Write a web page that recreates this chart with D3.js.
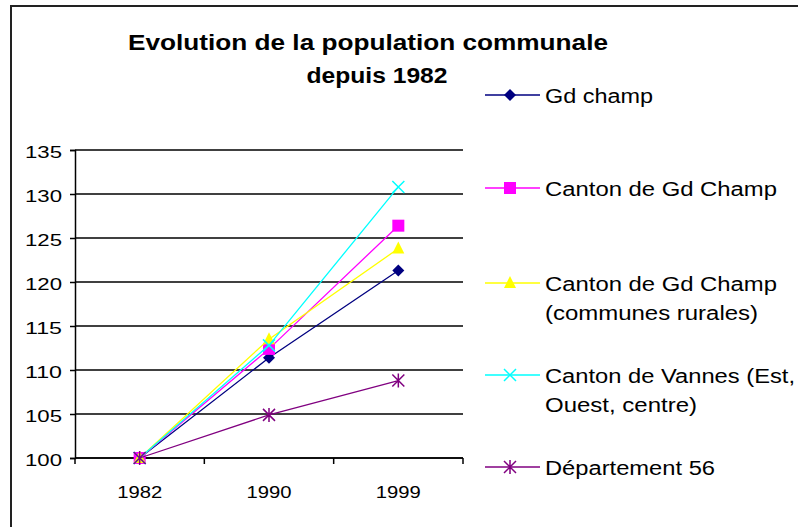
<!DOCTYPE html>
<html>
<head>
<meta charset="utf-8">
<script src="https://cdn.jsdelivr.net/npm/d3@7"></script>
<style>
  body { margin: 0; background: #fff; }
  svg { display: block; }
</style>
</head>
<body>
<svg width="798" height="527"></svg>
<script>
// data
var years = ['1982', '1990', '1999'];
var yTicks = [100, 105, 110, 115, 120, 125, 130, 135];
var seriesNames = [
  ['Gd champ'],
  ['Canton de Gd Champ'],
  ['Canton de Gd Champ', '(communes rurales)'],
  ['Canton de Vannes (Est,', 'Ouest, centre)'],
  ['Département 56']
];
var gdChamp = [100, 111.4, 121.3];
var cantonGdChamp = [100, 112.4, 126.4];
var cantonRural = [100, 113.5, 123.8];
var cantonVannes = [100, 112.8, 130.8];
var departement = [100, 104.9, 108.8];
var seriesColors = ['#000080', '#ff00ff', '#ffff00', '#00ffff', '#800080'];
var seriesMarkers = ['diamond', 'square', 'triangle', 'cross', 'star'];

var allSeries = [gdChamp, cantonGdChamp, cantonRural, cantonVannes, departement];
var font = 'Liberation Sans, Arial, sans-serif';

var svg = d3.select('svg');

// outer frame (runs off the right and bottom edges)
svg.append('rect').attr('x', 11).attr('y', 6).attr('width', 820).attr('height', 560)
  .attr('fill', 'white').attr('stroke', '#222').attr('stroke-width', 2);

// title
var title = svg.append('text').attr('text-anchor', 'middle')
  .attr('font-family', font).attr('font-weight', 'bold').attr('font-size', 22).attr('fill', '#000');
title.append('tspan').attr('x', 368).attr('y', 50)
  .attr('textLength', 480).attr('lengthAdjust', 'spacingAndGlyphs')
  .text('Evolution de la population communale');
title.append('tspan').attr('x', 377).attr('y', 83)
  .attr('textLength', 141).attr('lengthAdjust', 'spacingAndGlyphs')
  .text('depuis 1982');

var pLeft = 75, pRight = 463, pTop = 150, pBottom = 458;
var x = d3.scaleBand().domain(years).range([pLeft, pRight]);
var y = d3.scaleLinear().domain([100, 135]).range([pBottom, pTop]);

// gridlines
svg.append('g').selectAll('line').data(yTicks).join('line')
  .attr('x1', pLeft).attr('x2', pRight)
  .attr('y1', function (d) { return y(d); }).attr('y2', function (d) { return y(d); })
  .attr('stroke', '#000').attr('stroke-width', 1.5);

// y axis
var yAxis = svg.append('g').attr('transform', 'translate(' + pLeft + ',0)')
  .call(d3.axisLeft(y).tickValues(yTicks).tickSize(5).tickPadding(8));
yAxis.select('.domain').attr('stroke', '#000').attr('stroke-width', 1.5);
yAxis.selectAll('line').attr('stroke-width', 1.5);
yAxis.selectAll('text').attr('font-family', font).attr('font-size', 16).attr('fill', '#000')
  .attr('dy', 7).attr('textLength', 37).attr('lengthAdjust', 'spacingAndGlyphs');

// x axis with ticks at category boundaries
var xAxis = svg.append('g').attr('transform', 'translate(0,' + pBottom + ')');
xAxis.append('line').attr('x1', pLeft).attr('x2', pRight).attr('stroke', '#000').attr('stroke-width', 1.5);
var bounds = years.map(function (d) { return x(d); }).concat([pRight]);
xAxis.selectAll('.tk').data(bounds).join('line').attr('class', 'tk')
  .attr('x1', function (d) { return d; }).attr('x2', function (d) { return d; })
  .attr('y1', 0).attr('y2', 6).attr('stroke', '#000').attr('stroke-width', 1.5);
xAxis.selectAll('text').data(years).join('text')
  .attr('x', function (d) { return x(d) + x.bandwidth() / 2; }).attr('y', 40)
  .attr('text-anchor', 'middle').attr('font-family', font).attr('font-size', 16)
  .attr('textLength', 45).attr('lengthAdjust', 'spacingAndGlyphs')
  .text(function (d) { return d; });

function marker(g, type, color) {
  if (type === 'diamond') {
    g.append('path').attr('d', 'M0,-6L6,0L0,6L-6,0Z').attr('fill', color);
  } else if (type === 'square') {
    g.append('rect').attr('x', -6).attr('y', -6).attr('width', 12).attr('height', 12).attr('fill', color);
  } else if (type === 'triangle') {
    g.append('path').attr('d', 'M0,-7L6,5L-6,5Z').attr('fill', color);
  } else if (type === 'cross') {
    g.append('path').attr('d', 'M-6,-6L6,6M-6,6L6,-6').attr('stroke', color).attr('stroke-width', 1.5);
  } else {
    g.append('path').attr('d', 'M-6,-6L6,6M-6,6L6,-6M0,-7V7').attr('stroke', color).attr('stroke-width', 1.5);
  }
}

var line = d3.line()
  .x(function (d, i) { return x(years[i]) + x.bandwidth() / 2; })
  .y(function (d) { return y(d); });

allSeries.forEach(function (vals, s) {
  svg.append('path').datum(vals).attr('d', line)
    .attr('fill', 'none').attr('stroke', seriesColors[s]).attr('stroke-width', 1.3);
  vals.forEach(function (v, i) {
    var g = svg.append('g').attr('transform', 'translate(' + (x(years[i]) + x.bandwidth() / 2) + ',' + y(v) + ')');
    marker(g, seriesMarkers[s], seriesColors[s]);
  });
});

// legend
var legendY = [95, 188, 283, 375, 467];
var legendWidths = [[108], [232], [232, 213], [250, 152], [170]];
seriesNames.forEach(function (lines, s) {
  var g = svg.append('g').attr('transform', 'translate(0,' + legendY[s] + ')');
  g.append('line').attr('x1', 485).attr('x2', 540).attr('stroke', seriesColors[s]).attr('stroke-width', 1.5);
  var m = g.append('g').attr('transform', 'translate(510,0)');
  marker(m, seriesMarkers[s], seriesColors[s]);
  lines.forEach(function (t, k) {
    g.append('text').attr('x', 545).attr('y', 8 + k * 29)
      .attr('font-family', font).attr('font-size', 20).attr('fill', '#000')
      .attr('textLength', legendWidths[s][k]).attr('lengthAdjust', 'spacingAndGlyphs')
      .text(t);
  });
});
</script>
</body>
</html>
